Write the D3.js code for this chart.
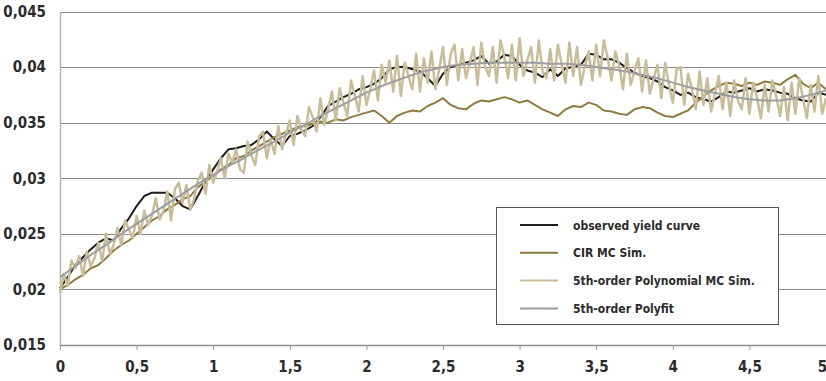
<!DOCTYPE html>
<html>
<head>
<meta charset="utf-8">
<script src="https://cdn.jsdelivr.net/npm/d3@7"></script>
<style>
  html, body { margin: 0; padding: 0; background: #fff; }
  svg { display: block; font-family: "DejaVu Sans Condensed", "Liberation Sans Narrow", "Roboto", sans-serif; }
</style>
</head>
<body>
<svg id="chart" width="826" height="381"></svg>
<script>
// Maturity axis (years) and yield axis ticks
const xTicks = [0, 0.5, 1, 1.5, 2, 2.5, 3, 3.5, 4, 4.5, 5];
const yTicks = [0.015, 0.02, 0.025, 0.03, 0.035, 0.04, 0.045];

const seriesNames = ["observed yield curve", "CIR MC Sim.", "5th-order Polynomial MC Sim.", "5th-order Polyfit"];
const seriesColors = ["#1e1e1e", "#8e7b3d", "#c9bd99", "#9c9ea2"];

// Sampling steps (years) of each series
const observedStep = 0.05;
const cirStep = 0.05;
const polyMcStep = 0.025;
const polyfitStep = 0.1;

// observed yield curve, t = 0 .. 5 every 0.05
const observed = [
  0.0201, 0.0211, 0.0222, 0.0229, 0.0236, 0.0242, 0.0246, 0.0244, 0.0255, 0.0264,
  0.0275, 0.0284, 0.0287, 0.0287, 0.0287, 0.0282, 0.0275, 0.0272, 0.0284, 0.0297,
  0.0308, 0.0318, 0.0326, 0.0327, 0.0329, 0.0330, 0.0335, 0.0342, 0.0335, 0.0329,
  0.0338, 0.0340, 0.0343, 0.0347, 0.0355, 0.0365, 0.0369, 0.0373, 0.0376, 0.0380,
  0.0382, 0.0385, 0.0390, 0.0398, 0.0400, 0.0400, 0.0398, 0.0396, 0.0390, 0.0383,
  0.0394, 0.0400, 0.0402, 0.0404, 0.0406, 0.0410, 0.0403, 0.0405, 0.0411, 0.0410,
  0.0402, 0.0397, 0.0395, 0.0391, 0.0398, 0.0392, 0.0399, 0.0400, 0.0402, 0.0412,
  0.0411, 0.0407, 0.0407, 0.0404, 0.0399, 0.0395, 0.0392, 0.0390, 0.0387, 0.0382,
  0.0379, 0.0375, 0.0377, 0.0373, 0.0371, 0.0369, 0.0373, 0.0378, 0.0377, 0.0379,
  0.0381, 0.0378, 0.0380, 0.0379, 0.0377, 0.0376, 0.0372, 0.0370, 0.0369, 0.0377,
  0.0375
];

// CIR Monte Carlo simulation, t = 0 .. 5 every 0.05
const cirSim = [
  0.0200, 0.0204, 0.0209, 0.0213, 0.0219, 0.0222, 0.0228, 0.0235, 0.0240, 0.0244,
  0.0250, 0.0256, 0.0262, 0.0266, 0.0272, 0.0276, 0.0281, 0.0284, 0.0292, 0.0297,
  0.0302, 0.0308, 0.0312, 0.0318, 0.0320, 0.0325, 0.0329, 0.0333, 0.0337, 0.0340,
  0.0343, 0.0346, 0.0347, 0.0349, 0.0351, 0.0350, 0.0353, 0.0352, 0.0355, 0.0357,
  0.0359, 0.0361, 0.0356, 0.0350, 0.0356, 0.0359, 0.0361, 0.0360, 0.0365, 0.0368,
  0.0372, 0.0366, 0.0363, 0.0362, 0.0367, 0.0370, 0.0369, 0.0371, 0.0373, 0.0371,
  0.0368, 0.0370, 0.0366, 0.0362, 0.0359, 0.0356, 0.0362, 0.0365, 0.0364, 0.0368,
  0.0366, 0.0361, 0.0360, 0.0358, 0.0357, 0.0362, 0.0364, 0.0363, 0.0359, 0.0356,
  0.0355, 0.0358, 0.0361, 0.0368, 0.0374, 0.0379, 0.0383, 0.0386, 0.0385, 0.0383,
  0.0386, 0.0384, 0.0387, 0.0386, 0.0384, 0.0389, 0.0393, 0.0385, 0.0381, 0.0386,
  0.0380
];

// 5th-order polynomial Monte Carlo simulation, t = 0 .. 5 every 0.025
const polyMcSim = [
  0.0197, 0.0214, 0.0203, 0.0226, 0.0219, 0.0230, 0.0212, 0.0234,
  0.0221, 0.0228, 0.0242, 0.0226, 0.0250, 0.0232, 0.0240, 0.0255,
  0.0240, 0.0262, 0.0254, 0.0246, 0.0266, 0.0250, 0.0271, 0.0258,
  0.0266, 0.0282, 0.0263, 0.0270, 0.0288, 0.0262, 0.0290, 0.0296,
  0.0278, 0.0294, 0.0272, 0.0281, 0.0298, 0.0305, 0.0286, 0.0312,
  0.0296, 0.0306, 0.0318, 0.0300, 0.0322, 0.0314, 0.0326, 0.0308,
  0.0305, 0.0333, 0.0320, 0.0312, 0.0338, 0.0342, 0.0318, 0.0335,
  0.0322, 0.0347, 0.0326, 0.0340, 0.0352, 0.0330, 0.0356, 0.0344,
  0.0338, 0.0364, 0.0355, 0.0342, 0.0372, 0.0348, 0.0362, 0.0378,
  0.0352, 0.0381, 0.0368, 0.0356, 0.0388, 0.0374, 0.0360, 0.0392,
  0.0366, 0.0380, 0.0397, 0.0370, 0.0402, 0.0386, 0.0406, 0.0378,
  0.0410, 0.0374, 0.0404, 0.0392, 0.0380, 0.0412, 0.0378, 0.0408,
  0.0386, 0.0414, 0.0380, 0.0398, 0.0418, 0.0384, 0.0412, 0.0420,
  0.0388, 0.0416, 0.0390, 0.0404, 0.0418, 0.0384, 0.0422, 0.0400,
  0.0392, 0.0418, 0.0386, 0.0424, 0.0410, 0.0390, 0.0420, 0.0388,
  0.0426, 0.0392, 0.0406, 0.0418, 0.0386, 0.0424, 0.0396, 0.0390,
  0.0416, 0.0388, 0.0420, 0.0402, 0.0386, 0.0422, 0.0392, 0.0418,
  0.0384, 0.0400, 0.0414, 0.0388, 0.0420, 0.0392, 0.0424, 0.0408,
  0.0388, 0.0414, 0.0402, 0.0380, 0.0412, 0.0384, 0.0396, 0.0408,
  0.0378, 0.0406, 0.0376, 0.0390, 0.0402, 0.0372, 0.0404, 0.0384,
  0.0368, 0.0398, 0.0400, 0.0366, 0.0394, 0.0380, 0.0362, 0.0396,
  0.0366, 0.0390, 0.0360, 0.0376, 0.0392, 0.0362, 0.0386, 0.0356,
  0.0388, 0.0370, 0.0362, 0.0390, 0.0358, 0.0386, 0.0372, 0.0354,
  0.0384, 0.0360, 0.0388, 0.0374, 0.0356, 0.0382, 0.0352, 0.0386,
  0.0358, 0.0390, 0.0372, 0.0354, 0.0384, 0.0360, 0.0392, 0.0358,
  0.0372
];

// 5th-order polynomial fit, t = 0 .. 5 every 0.1
const polyfit = [
  0.0211, 0.0221, 0.0231, 0.0240, 0.0250, 0.0259, 0.0268, 0.0277, 0.0286, 0.0295,
  0.0303, 0.0311, 0.0318, 0.0326, 0.0333, 0.0341, 0.0348, 0.0356, 0.0363, 0.0370,
  0.0377, 0.0383, 0.0388, 0.0393, 0.0397, 0.0400, 0.0402, 0.0403, 0.0404, 0.0404,
  0.0404, 0.0404, 0.0403, 0.0403, 0.0402, 0.0400, 0.0398, 0.0396, 0.0393, 0.0390,
  0.0386, 0.0382, 0.0379, 0.0376, 0.0373, 0.0371, 0.0370, 0.0370, 0.0372, 0.0375,
  0.0379
];

const plot = { left: 60, right: 826, top: 11.5, bottom: 345 };

const svg = d3.select("#chart");
const x = d3.scaleLinear().domain([0, 5]).range([plot.left, plot.right]);
const y = d3.scaleLinear().domain([0.015, 0.045]).range([plot.bottom, plot.top]);

const locale = d3.formatLocale({ decimal: ",", thousands: ".", grouping: [3], currency: ["", "€"] });
const fmt = v => locale.format("")(+v.toFixed(3));

// horizontal gridlines
svg.append("g")
  .selectAll("line")
  .data(yTicks.filter(v => v > 0.015))
  .join("line")
  .attr("x1", plot.left).attr("x2", plot.right)
  .attr("y1", d => Math.round(y(d)) + 0.5).attr("y2", d => Math.round(y(d)) + 0.5)
  .attr("stroke", "#8c8c8c").attr("stroke-width", 1);

// y axis
const yAxis = svg.append("g")
  .attr("transform", `translate(${plot.left},0)`)
  .call(d3.axisLeft(y).tickValues(yTicks).tickSize(0).tickPadding(14).tickFormat(fmt));
yAxis.select(".domain").attr("stroke", "#b4b4b4").attr("stroke-width", 1.5);
yAxis.selectAll("text")
  .attr("font-size", 15).attr("font-weight", "bold").attr("fill", "#2b2b2b")
  .attr("font-family", "\"DejaVu Sans Condensed\", sans-serif");

// x axis
const xAxis = svg.append("g")
  .attr("transform", `translate(0,${plot.bottom})`)
  .call(d3.axisBottom(x).tickValues(xTicks).tickSize(5).tickSizeOuter(0).tickPadding(11).tickFormat(fmt));
xAxis.select(".domain").attr("stroke", "#8c8c8c").attr("stroke-width", 1.5);
xAxis.selectAll(".tick line").attr("stroke", "#a0a0a0");
xAxis.selectAll("text")
  .attr("font-size", 15).attr("font-weight", "bold").attr("fill", "#2b2b2b")
  .attr("font-family", "\"DejaVu Sans Condensed\", sans-serif");
// keep the last label inside the frame
xAxis.selectAll("text").filter(d => d === 5).attr("dx", -4);

// series lines
const line = d3.line().x(d => x(d[0])).y(d => y(d[1]));
const toPoints = (vals, step) => vals.map((v, i) => [i * step, v]);

const series = [
  { pts: toPoints(observed, observedStep), color: seriesColors[0], w: 2 },
  { pts: toPoints(cirSim, cirStep), color: seriesColors[1], w: 2 },
  { pts: toPoints(polyMcSim, polyMcStep), color: seriesColors[2], w: 2.5 },
  { pts: toPoints(polyfit, polyfitStep), color: seriesColors[3], w: 2 }
];

svg.append("g")
  .selectAll("path")
  .data(series)
  .join("path")
  .attr("d", d => line(d.pts))
  .attr("fill", "none")
  .attr("stroke", d => d.color)
  .attr("stroke-width", d => d.w)
  .attr("stroke-linejoin", "round");

// legend
const legend = svg.append("g");
legend.append("rect")
  .attr("x", 496.5).attr("y", 207.5).attr("width", 282).attr("height", 117)
  .attr("fill", "#fff").attr("stroke", "#555").attr("stroke-width", 1);

const rows = legend.selectAll("g.row")
  .data(seriesNames)
  .join("g")
  .attr("class", "row")
  .attr("transform", (d, i) => `translate(0,${225 + i * 27.8})`);
rows.append("line")
  .attr("x1", 520).attr("x2", 558).attr("y1", 0).attr("y2", 0)
  .attr("stroke", (d, i) => seriesColors[i]).attr("stroke-width", 2);
rows.append("text")
  .attr("x", 573).attr("y", 4.5)
  .attr("font-size", 12).attr("font-weight", "bold").attr("fill", "#2b2b2b")
  .text(d => d);
</script>
</body>
</html>
